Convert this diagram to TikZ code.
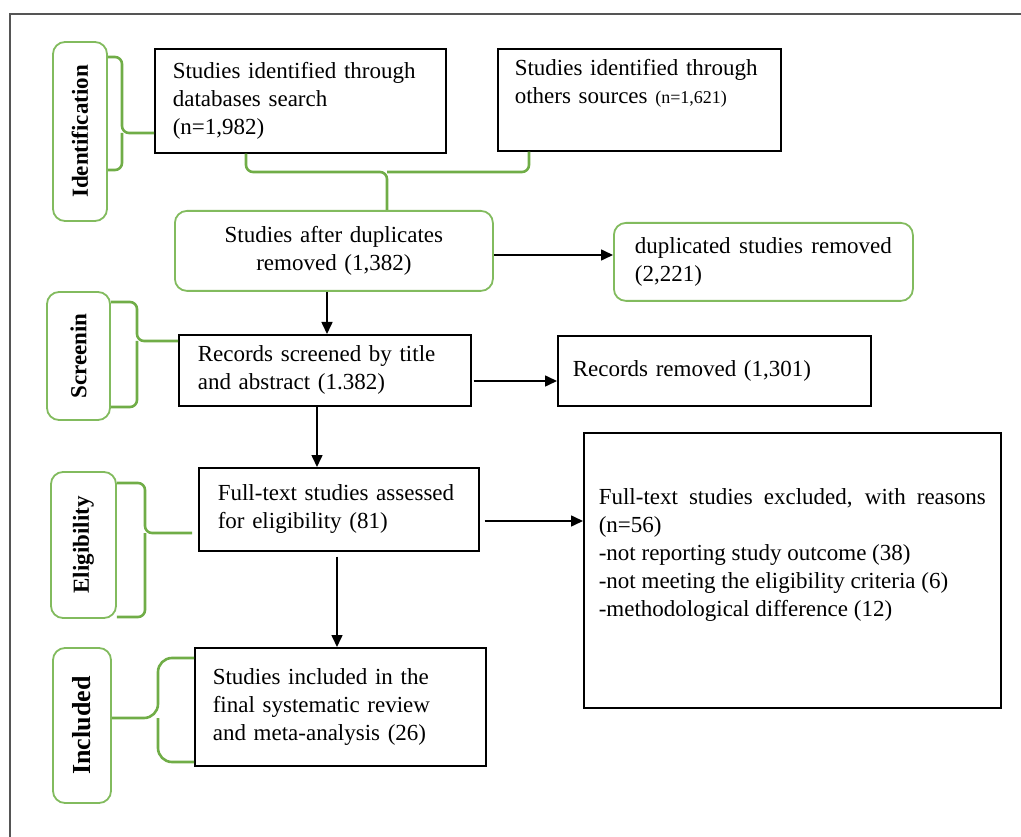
\documentclass[tikz,border=0pt]{standalone}
\usepackage{fontspec}
\setmainfont{Liberation Serif}
\usetikzlibrary{arrows.meta}
\hyphenpenalty=10000
\tolerance=9999
\definecolor{brc}{HTML}{70AD47}
\definecolor{tagc}{HTML}{82BB5E}
\definecolor{frm}{HTML}{555555}
\newcommand\fsz{\fontsize{23}{28}\selectfont}
\newcommand\fsmall{\fontsize{18}{28}\selectfont}
\begin{document}
\begin{tikzpicture}[x=1pt,y=-1pt,
 box/.style={draw=black,line width=1.6pt,anchor=north west,inner ysep=0pt,font=\fsz,align=left},
 gbox/.style={box,draw=tagc,rounded corners=12pt,line width=1.8pt},
 tag/.style={draw=tagc,line width=1.8pt,rounded corners=12pt,inner sep=0pt,font=\fsz\bfseries},
 brace/.style={draw=brc,line width=2.6pt,rounded corners=7pt},
 arr/.style={draw=black,line width=1.6pt,-{Triangle[length=12pt,width=11pt]}},
 frame/.style={draw=frm,line width=2pt}]
\useasboundingbox (0,0) rectangle (1021,837);
\draw[frame] (10,837) -- (10,14) -- (1021,14);

% stage tags
\node[tag,minimum width=54pt,minimum height=179pt] (tagI) at (80,131.5) {\rotatebox{90}{Identification}};
\node[tag,minimum width=63pt,minimum height=128pt] (tagS) at (78.5,356) {\rotatebox{90}{Screenin}};
\node[tag,minimum width=65pt,minimum height=146pt] (tagE) at (83.5,545) {\rotatebox{90}{Eligibility}};
\node[tag,minimum width=58pt,minimum height=155pt,font=\fontsize{26}{30}\selectfont\bfseries] (tagN) at (82,725.5) {\rotatebox{90}{Included}};

% boxes
\node[box,text width=255pt,inner xsep=18pt,minimum height=104pt] (b1) at (154,48) {Studies identified through\\databases search\\(n=1,982)};
\node[box,text width=249pt,inner xsep=17pt,minimum height=102pt] (b2) at (497,48) {Studies identified through\\others sources {\fsmall(n=1,621)}\\\strut};
\node[gbox,align=center,text width=290pt,inner xsep=14pt,minimum height=80pt] (b3) at (174,210) {Studies after duplicates\\removed (1,382)};
\node[gbox,align=justify,text width=257pt,inner xsep=21pt,minimum height=78pt] (b4) at (613,222) {duplicated studies removed (2,221)};
\node[box,text width=254pt,inner xsep=19pt,minimum height=71pt] (b5) at (178,334) {Records screened by title\\and abstract (1.382)};
\node[box,text width=283pt,inner xsep=15pt,minimum height=70pt] (b6) at (557,335) {Records removed (1,301)};
\node[box,text width=242pt,inner xsep=19pt,minimum height=83pt] (b7) at (198,467) {Full-text studies assessed\\for eligibility (81)};
\node[box,align=justify,text width=387pt,inner xsep=15pt,minimum height=275pt] (b8) at (583,432) {Full-text studies excluded, with reasons (n=56)\\-not reporting study outcome (38)\\-not meeting the eligibility criteria (6)\\-methodological difference (12)\\\strut};
\node[box,text width=255pt,inner xsep=18pt,minimum height=118pt] (b9) at (194,647) {Studies included in the\\final systematic review\\and meta-analysis (26)};
\coordinate (b7s) at ([yshift=-5pt]b7.south);
\coordinate (b7e) at ([xshift=5pt]b7.east);
\coordinate (b7w) at ([xshift=-6pt]b7.west);
\coordinate (b5e) at ([xshift=2pt]b5.east);

% braces
\draw[brace] (tagI.east |- 0,57) -| (122,133) -- (b1.west |- 0,133);
\draw[brace] (tagI.east |- 0,170) -| (122,133);
\draw[brace] (tagS.east |- 0,302) -| (137,341) -- (b5.west |- 0,341);
\draw[brace] (tagS.east |- 0,407) -| (137,341);
\draw[brace] (tagE.east |- 0,483) -| (145,533) -- (b7w |- 0,533);
\draw[brace] (tagE.east |- 0,617) -| (145,533);
\draw[brace,rounded corners=14pt] (b9.west |- 0,658) -| (158,718) -- (tagN.east |- 0,718);
\draw[brace,rounded corners=14pt] (b9.west |- 0,762) -| (158,718);
\draw[brace] (246,0 |- b1.south) |- (387,172) -- (387,0 |- b3.north);
\draw[brace] (529,0 |- b2.south) |- (387,172);

% arrows
\draw[arr] (b3.east |- 0,255) -- (b4.west |- 0,255);
\draw[arr] (327,0 |- b3.south) -- (327,0 |- b5.north);
\draw[arr] (b5e |- 0,381) -- (b6.west |- 0,381);
\draw[arr] (317,0 |- b5.south) -- (317,0 |- b7.north);
\draw[arr] (b7e |- 0,521) -- (b8.west |- 0,521);
\draw[arr] (337,0 |- b7s) -- (337,0 |- b9.north);
\end{tikzpicture}
\end{document}
